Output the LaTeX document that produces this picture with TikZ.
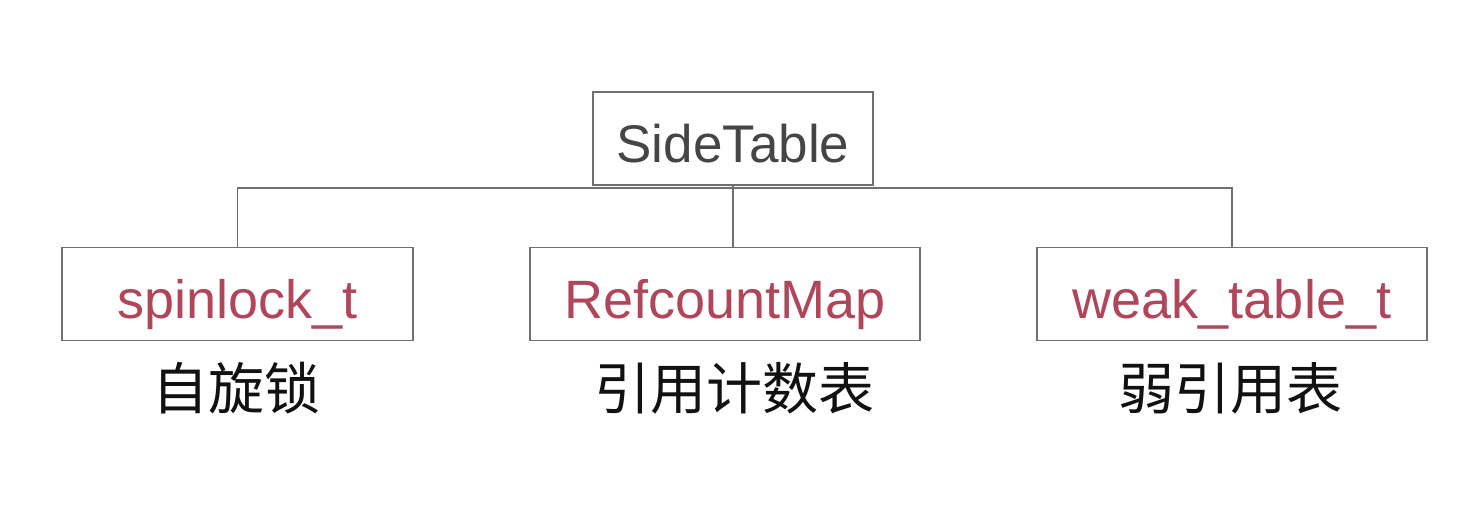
\documentclass[tikz,border=0pt]{standalone}
\usepackage{fontspec}
\setmainfont{Liberation Sans}
\newfontfamily\cjk{Noto Sans CJK SC}
\definecolor{boxline}{HTML}{707070}
\definecolor{toptext}{HTML}{454545}
\definecolor{redtext}{HTML}{B0465A}
\definecolor{cjktext}{HTML}{111111}
\tikzset{
  boxnode/.style={draw=boxline, line width=1.8pt, inner sep=0pt, minimum height=93pt, text height=48pt, text depth=0pt, font=\fontsize{54}{60}\selectfont},
  conn/.style={draw=boxline, line width=1.8pt},
  cjklabel/.style={inner sep=0pt, text=cjktext, font=\cjk\fontsize{56}{62}\selectfont}
}
\begin{document}
\begin{tikzpicture}[x=1pt,y=-1pt]
\useasboundingbox[fill=white] (0,0) rectangle (1480,528);
\node[boxnode, minimum width=280pt, text=toptext, font=\fontsize{53}{60}\selectfont] (top) at (733,138.5) {SideTable};
\node[boxnode, minimum width=351pt, text=redtext] (sp) at (237.5,294) {spinlock\_t};
\node[boxnode, minimum width=390pt, text=redtext] (rc) at (725,294) {RefcountMap};
\node[boxnode, minimum width=390pt, text=redtext] (wk) at (1232,294) {weak\_table\_t};
\coordinate (bus) at (733,188);
\draw[conn] (top.south) -- (top.south |- rc.north);
\draw[conn] (sp.north) -- (sp.north |- bus) -- (wk.north |- bus) -- (wk.north);
\node[cjklabel] (l1) at (236,388) {自旋锁};
\node[cjklabel] (l2) at (734,388) {引用计数表};
\node[cjklabel] (l3) at (1230,388) {弱引用表};
\end{tikzpicture}
\end{document}
